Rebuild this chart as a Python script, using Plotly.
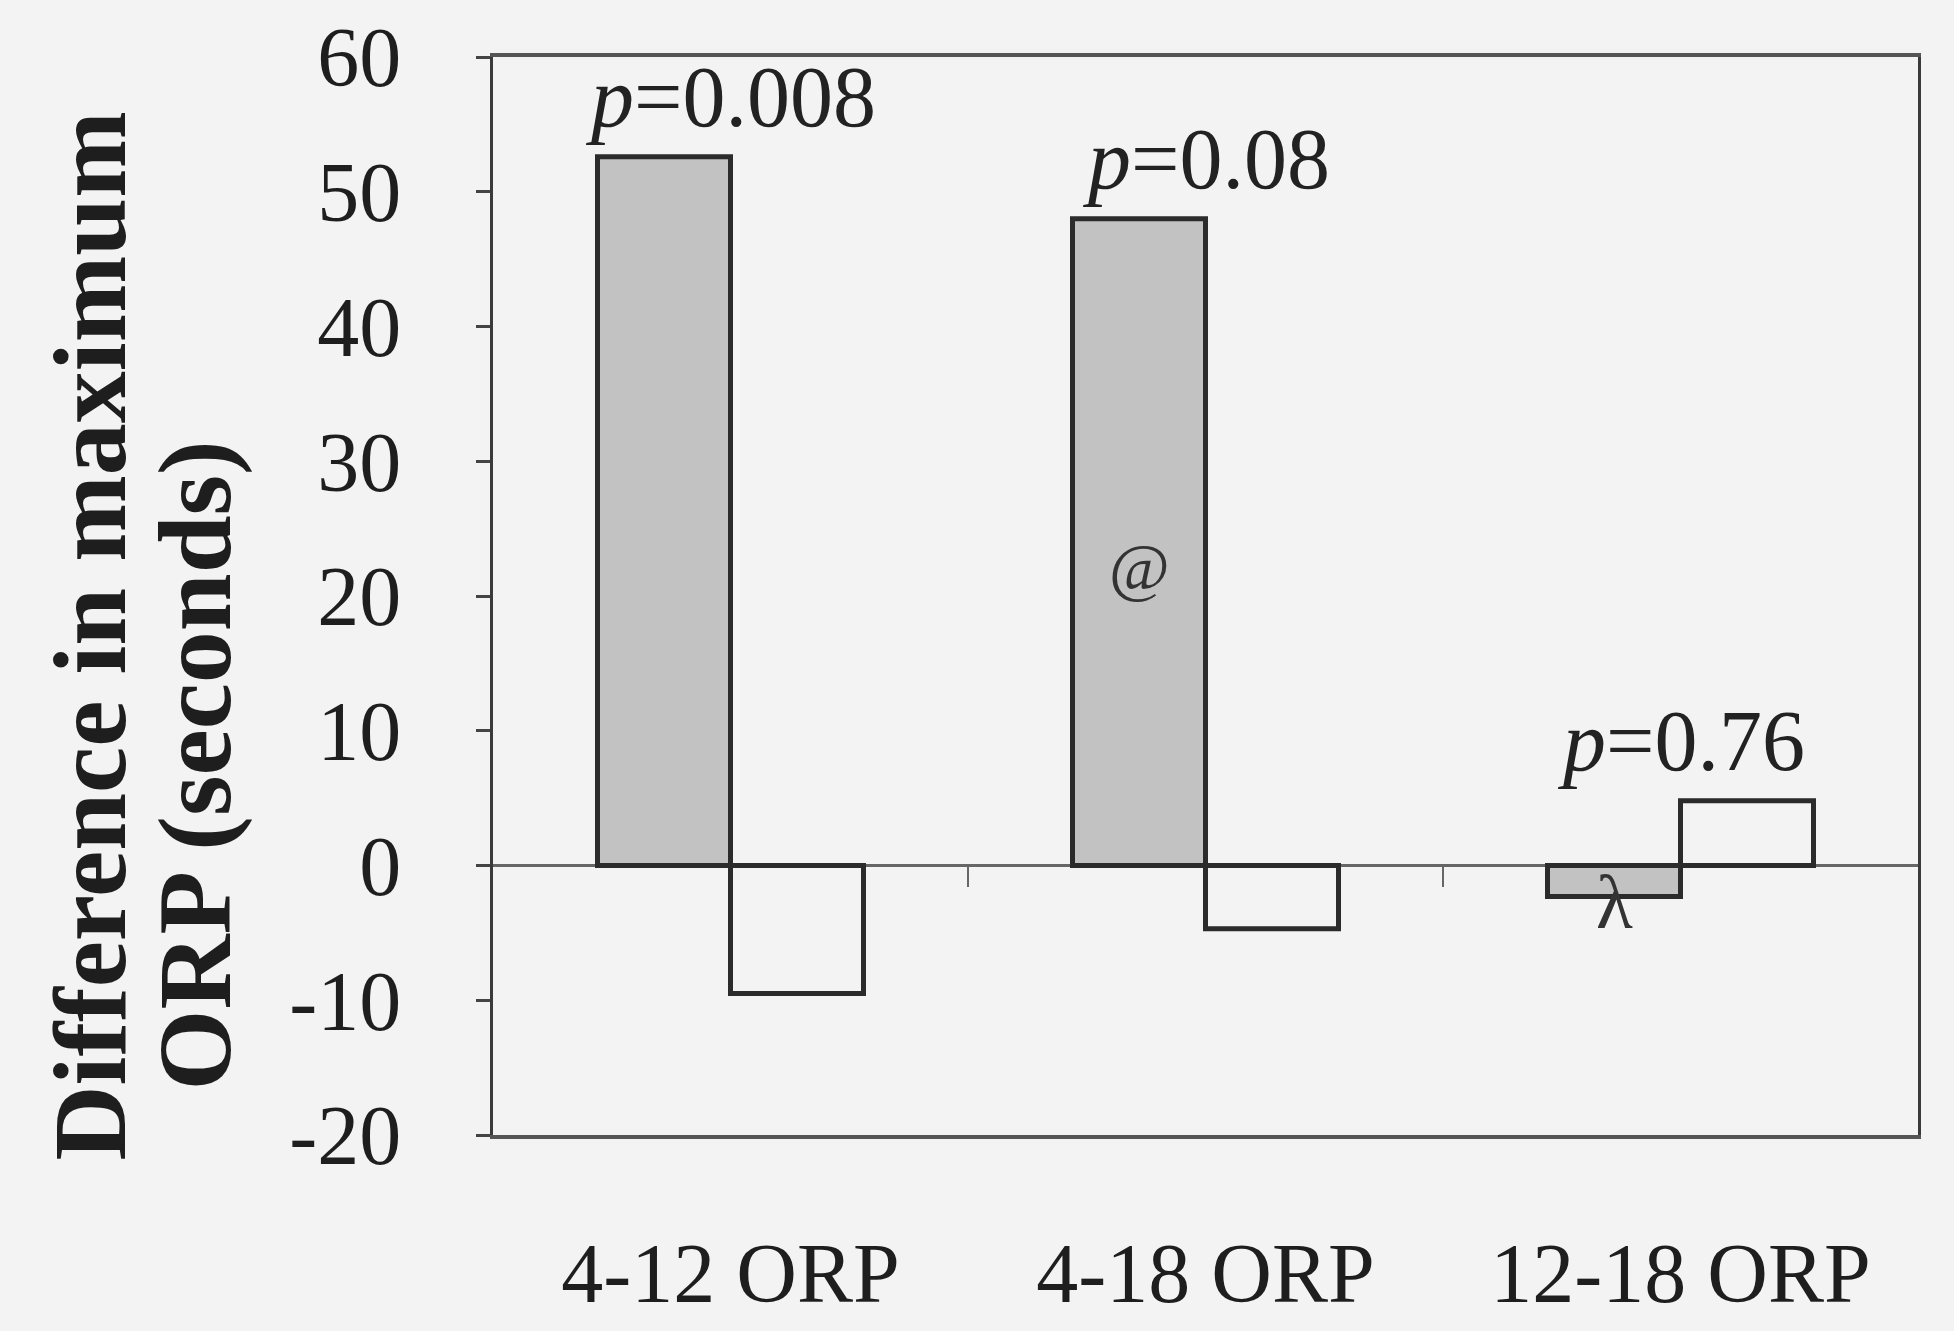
import plotly.graph_objects as go

# ---- data ----
categories = ["4-12 ORP", "4-18 ORP", "12-18 ORP"]
gray_vals = [52.6, 48.0, -2.3]      # filled (grey) bars
open_vals = [-9.5, -4.7, 4.8]       # open (white) bars
p_labels = ["<i>p</i>=0.008", "<i>p</i>=0.08", "<i>p</i>=0.76"]
bar_symbols = ["", "@", "λ"]        # symbols drawn on the grey bars
y_tickvals = [-20, -10, 0, 10, 20, 30, 40, 50, 60]
y_ticktext = ["-20", "-10", "0", "10", "20", "30", "40", "50", "60"]
y_title_lines = ["Difference in maximum", "ORP (seconds)"]

BG = "#f3f3f3"
DARK = "#2b2b2b"
SERIF = "Liberation Serif, Times New Roman, serif"
BGAP = 0.44
half_w = (1 - BGAP) / 4  # half of one bar width, in category units

fig = go.Figure()
fig.add_bar(
    x=categories, y=gray_vals,
    marker=dict(color="#c2c2c2", line=dict(color=DARK, width=5)),
    showlegend=False, hoverinfo="y",
)
fig.add_bar(
    x=categories, y=open_vals,
    marker=dict(color="rgba(0,0,0,0)", line=dict(color=DARK, width=5)),
    showlegend=False, hoverinfo="y",
)

annotations = []
# p-value labels above each category
for i, (cat, txt) in enumerate(zip(categories, p_labels)):
    top = max(gray_vals[i], open_vals[i], 0)
    annotations.append(dict(
        x=i, y=top, xref="x", yref="y", text=txt, showarrow=False,
        yanchor="bottom", xanchor="center", yshift=10,
        font=dict(family=SERIF, size=86, color="#222"),
    ))
# symbols on grey bars
for i, sym in enumerate(bar_symbols):
    if not sym:
        continue
    if gray_vals[i] > 0:
        yy, ysh, fs = gray_vals[i] / 2, -24, 66
    else:
        yy, ysh, fs = gray_vals[i], -6, 76
    annotations.append(dict(
        x=i - half_w, y=yy, xref="x", yref="y", text=sym, showarrow=False,
        yanchor="middle", xanchor="center", yshift=ysh,
        font=dict(family=SERIF, size=fs, color="#333"),
    ))
# two-line bold y-axis title
title_pos = [(-0.283, 0.463), (-0.209, 0.343)]
for line, (px, py) in zip(y_title_lines, title_pos):
    annotations.append(dict(
        x=px, y=py, xref="paper", yref="paper", text="<b>" + line + "</b>",
        showarrow=False, textangle=-90, xanchor="center", yanchor="middle",
        font=dict(family=SERIF, size=104, color="#1e1e1e"),
    ))

# small category separators hanging from the zero line
shapes = []
for k in range(len(categories) - 1):
    shapes.append(dict(
        type="line", xref="x", yref="y", x0=k + 0.5, x1=k + 0.5, y0=0, y1=-1.6,
        line=dict(color="#666", width=2),
    ))

fig.update_layout(
    width=1954, height=1331,
    paper_bgcolor=BG, plot_bgcolor=BG,
    margin=dict(l=493, r=36, t=57, b=196, autoexpand=False),
    barmode="group", bargap=BGAP, bargroupgap=0,
    annotations=annotations, shapes=shapes,
    xaxis=dict(
        type="category", range=[-0.5, 2.5], automargin=False,
        showgrid=False, zeroline=False,
        showline=True, linecolor="#555", linewidth=4, mirror=True,
        ticks="", ticklabelstandoff=62,
        tickfont=dict(family=SERIF, size=84, color="#1e1e1e"),
    ),
    yaxis=dict(
        range=[-20, 60], tickvals=y_tickvals, ticktext=y_ticktext,
        automargin=False, showgrid=False,
        zeroline=True, zerolinecolor="#666", zerolinewidth=3,
        showline=True, linecolor="#3a3a3a", linewidth=3, mirror=True,
        ticks="outside", ticklen=14, tickwidth=3, tickcolor="#444",
        ticklabelstandoff=58,
        tickfont=dict(family=SERIF, size=84, color="#1e1e1e"),
    ),
)

fig.write_html(
    "out.html",
    config={"displayModeBar": False},
    post_script="document.body.style.margin='0px';document.body.style.background='%s';" % BG,
)
